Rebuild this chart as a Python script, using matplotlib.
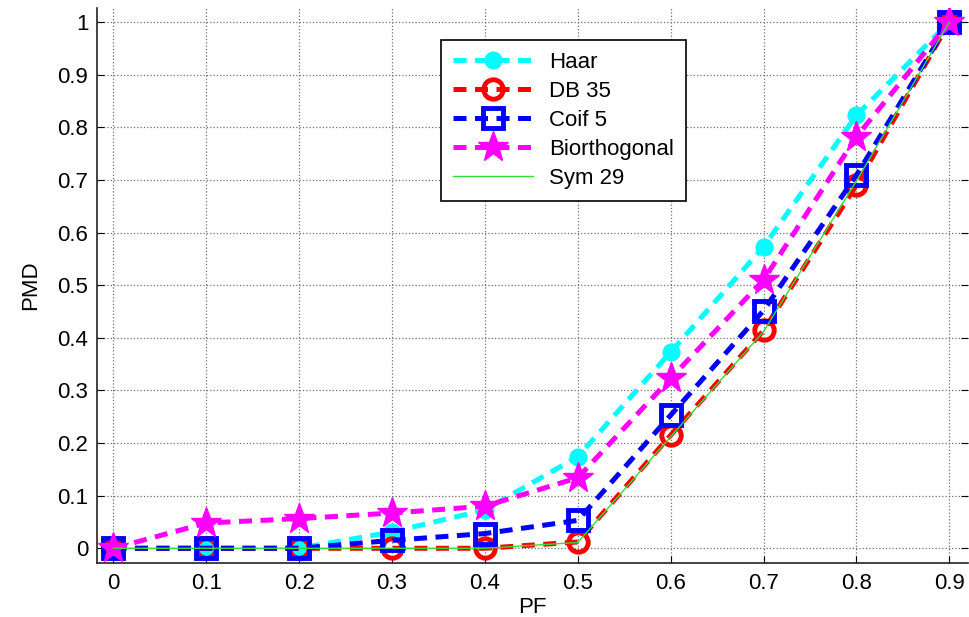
import matplotlib
matplotlib.use("Agg")
import matplotlib.pyplot as plt

plt.rcParams['font.family'] = ['Liberation Sans', 'DejaVu Sans']

pf = [0.0, 0.1, 0.2, 0.3, 0.4, 0.5, 0.6, 0.7, 0.8, 0.9]
haar = [0.0, 0.0, 0.0, 0.031, 0.073, 0.174, 0.373, 0.573, 0.823, 1.0]
db35 = [0.0, 0.0, 0.0, 0.0, 0.0, 0.012, 0.215, 0.414, 0.690, 1.0]
coif5 = [0.0, 0.0, 0.0, 0.015, 0.028, 0.053, 0.253, 0.452, 0.709, 1.0]
bior = [0.0, 0.048, 0.0565, 0.067, 0.080, 0.134, 0.323, 0.510, 0.782, 1.0]
sym29 = [0.0, 0.0, 0.0, 0.0, 0.0, 0.011, 0.212, 0.412, 0.698, 1.0]

xticks = [0, 0.1, 0.2, 0.3, 0.4, 0.5, 0.6, 0.7, 0.8, 0.9]
xticklabels = ['0', '0.1', '0.2', '0.3', '0.4', '0.5', '0.6', '0.7', '0.8', '0.9']
yticks = [0, 0.1, 0.2, 0.3, 0.4, 0.5, 0.6, 0.7, 0.8, 0.9, 1.0]
yticklabels = ['0', '0.1', '0.2', '0.3', '0.4', '0.5', '0.6', '0.7', '0.8', '0.9', '1']

fig = plt.figure(figsize=(9.69, 6.17), dpi=100)
ax = fig.add_axes([0.0998, 0.0875, 0.899, 0.8995])

dash = (0, (2.6, 1.7))
lw = 3.6
fs = 16
ax.plot(pf, haar, color='cyan', linestyle=dash, linewidth=lw, marker='o',
        markersize=12, markerfacecolor='cyan', markeredgecolor='cyan', label='Haar')
ax.plot(pf, db35, color='red', linestyle=dash, linewidth=lw, marker='o',
        markersize=14, markerfacecolor='none', markeredgecolor='red',
        markeredgewidth=3.5, label='DB 35')
ax.plot(pf, coif5, color='blue', linestyle=dash, linewidth=lw, marker='s',
        markersize=15, markerfacecolor='none', markeredgecolor='blue',
        markeredgewidth=3.5, label='Coif 5')
ax.plot(pf, bior, color='magenta', linestyle=dash, linewidth=lw, marker='*',
        markersize=23, markerfacecolor='magenta', markeredgecolor='magenta',
        label='Biorthogonal')
ax.plot(pf, sym29, color='#33dd33', linestyle='-', linewidth=1.0, label='Sym 29')

ax.set_xlim(-0.018, 0.92)
ax.set_ylim(-0.028, 1.027)
ax.set_xticks(xticks)
ax.set_xticklabels(xticklabels)
ax.set_yticks(yticks)
ax.set_yticklabels(yticklabels)
ax.tick_params(direction='in', labelsize=fs, length=5, right=True)
ax.tick_params(axis='y', pad=6)
ax.tick_params(axis='x', pad=7)
ax.grid(True, linestyle=':', color='#707070', linewidth=0.9)
for s in ['top', 'right']:
    ax.spines[s].set_visible(False)
for s in ['left', 'bottom']:
    ax.spines[s].set_linewidth(1.2)
    ax.spines[s].set_color('#222222')

ax.set_xlabel('PF', fontsize=fs, labelpad=2)
ax.set_ylabel('PMD', fontsize=fs, labelpad=12)

leg = ax.legend(loc='upper left', bbox_to_anchor=(441 / 969, 1 - 40 / 617),
                bbox_transform=fig.transFigure, fontsize=fs, frameon=True,
                fancybox=False, edgecolor='black', framealpha=1,
                handlelength=3.6, borderpad=0.55, labelspacing=0.36,
                handletextpad=0.7, borderaxespad=0)
leg.get_frame().set_linewidth(1.2)

fig.savefig('out.png', dpi=100)
